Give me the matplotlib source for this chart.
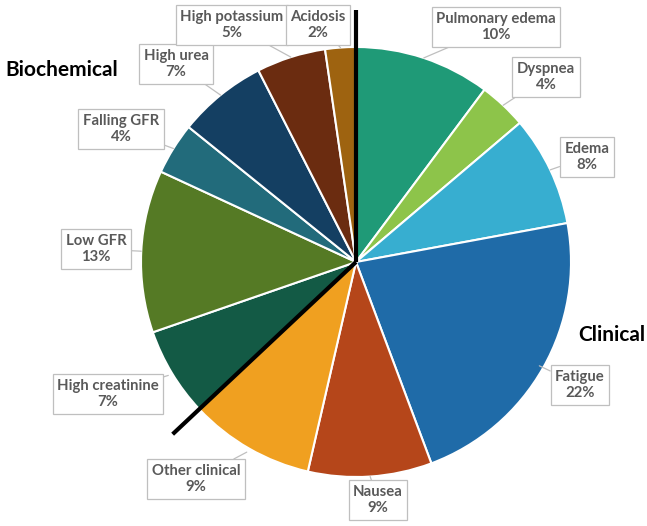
import numpy as np
import matplotlib
matplotlib.use("Agg")
import matplotlib.pyplot as plt

labels = ["Pulmonary edema", "Dyspnea", "Edema", "Fatigue", "Nausea", "Other clinical",
          "High creatinine", "Low GFR", "Falling GFR", "High urea", "High potassium", "Acidosis"]
# slice shares
values = [10.2, 3.6, 8.3, 22.2, 9.3, 9.4, 6.7, 12.2, 3.9, 6.7, 5.2, 2.3]
# percentages as printed in the labels
pct_labels = ["10%", "4%", "8%", "22%", "9%", "9%", "7%", "13%", "4%", "7%", "5%", "2%"]
colors = ["#1F9A77", "#8DC44A", "#37AED0", "#1F6BA8", "#B5461A", "#F0A020",
          "#135A45", "#557A25", "#226B7B", "#143F62", "#6B2C10", "#9E6310"]
n_clinical = 6

W, H = 647, 526
fig = plt.figure(figsize=(W / 100, H / 100), dpi=100)
ax = fig.add_axes([0, 0, 1, 1])

cx, cy, R = 356, H - 262, 215
wedges, _ = ax.pie(values, colors=colors, startangle=90, counterclock=False,
                   center=(cx, cy), radius=R,
                   wedgeprops=dict(edgecolor="white", linewidth=1.5))
ax.set_xlim(0, W)
ax.set_ylim(0, H)
ax.set_aspect("equal")
ax.axis("off")

# label box centres in pixels (x, y from top)
box_pos = [(496, 27), (546, 77), (587, 157), (580, 385), (378, 500), (196, 479),
           (108, 394), (96, 249), (121, 129), (176, 64), (232, 25), (318, 25)]
anchor_r = [1.0, 1.0, 1.0, 0.98, 1.0, 1.02, 1.02, 1.0, 1.0, 1.0, 1.0, 1.0]

total = sum(values)
cum = 0
for i, (lab, v) in enumerate(zip(labels, values)):
    mid = 90 - 360 * (cum + v / 2) / total
    cum += v
    ang = np.deg2rad(mid)
    ax_x = cx + R * anchor_r[i] * np.cos(ang)
    ax_y = cy + R * anchor_r[i] * np.sin(ang)
    bx, by = box_pos[i]
    ax.annotate(f"{lab}\n{pct_labels[i]}", xy=(ax_x, ax_y), xytext=(bx, H - by),
                ha="center", va="center", fontsize=10.7, color="#595959",
                family=["Lato", "DejaVu Sans"], fontweight="bold", linespacing=1.2,
                bbox=dict(boxstyle="square,pad=0.3", fc="white", ec="#BFBFBF", lw=0.9),
                arrowprops=dict(arrowstyle="-", color="#BFBFBF", lw=0.9,
                                shrinkA=0, shrinkB=0))

# group divider lines
ext = 1.17
for frac in [0, sum(values[:n_clinical]) / total]:
    a = np.deg2rad(90 - 360 * frac)
    ax.plot([cx, cx + R * ext * np.cos(a)], [cy, cy + R * ext * np.sin(a)],
            color="black", lw=3, solid_capstyle="butt", zorder=5)

ax.text(5, H - 70, "Biochemical", ha="left", va="center", fontsize=15,
        fontweight="bold", family=["Lato", "DejaVu Sans"], color="black")
ax.text(578, H - 335, "Clinical", ha="left", va="center", fontsize=15,
        fontweight="bold", family=["Lato", "DejaVu Sans"], color="black")

fig.savefig("out.png", dpi=100)
